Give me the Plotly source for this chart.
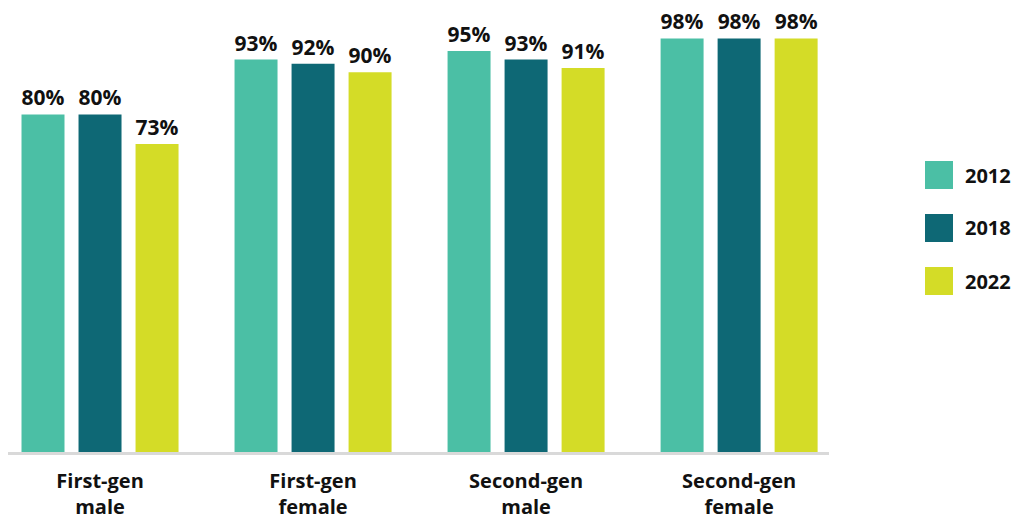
import plotly.graph_objects as go

categories = ["First-gen<br>male", "First-gen<br>female", "Second-gen<br>male", "Second-gen<br>female"]
series_names = ["2012", "2018", "2022"]
values_2012 = [80, 93, 95, 98]
values_2018 = [80, 92, 93, 98]
values_2022 = [73, 90, 91, 98]
colors = ["#4BBFA5", "#0E6875", "#D4DC27"]

FONT = "Open Sans"
W, H = 1017, 520

fig = go.Figure()
for name, vals, col in zip(series_names, [values_2012, values_2018, values_2022], colors):
    fig.add_trace(go.Bar(
        x=categories, y=vals, name=name, marker_color=col, marker_line_width=0,
        text=[f"{v}%" for v in vals], textposition="outside", cliponaxis=False,
        textfont=dict(family=FONT, size=21, color="#111111", weight="bold"),
        showlegend=False,
    ))

# Legend drawn as swatches + labels (paper coordinates)
leg_x0, leg_size = 925, 28
leg_centers = [175, 228, 281]
for name, col, cy in zip(series_names, colors, leg_centers):
    fig.add_shape(type="rect", xref="paper", yref="paper",
                  x0=(leg_x0 - 8) / 821, x1=(leg_x0 + leg_size - 8) / 821,
                  y0=(452 - (cy + leg_size / 2)) / 422, y1=(452 - (cy - leg_size / 2)) / 422,
                  fillcolor=col, line_width=0)
    fig.add_annotation(xref="paper", yref="paper", x=(963 - 8) / 821, y=(452 - cy) / 422,
                       text=name, showarrow=False, xanchor="left", yanchor="middle",
                       font=dict(family=FONT, size=20, color="#111111", weight="bold"))

fig.update_layout(
    width=W, height=H,
    margin=dict(l=8, r=188, t=30, b=68, autoexpand=False),
    paper_bgcolor="white", plot_bgcolor="white",
    barmode="group", bargap=0.197, bargroupgap=0.246,
    font=dict(family=FONT, color="#111111"),
    xaxis=dict(range=[-0.432, 3.422], showline=True, linecolor="#D9D9D9", linewidth=3,
               ticks="", showgrid=False, zeroline=False, ticklabelstandoff=9,
               automargin=False,
               tickfont=dict(family=FONT, size=20, color="#111111", weight="bold")),
    yaxis=dict(range=[0, 100], visible=False, showgrid=False, zeroline=False, automargin=False),
)

fig.write_html("out.html")
